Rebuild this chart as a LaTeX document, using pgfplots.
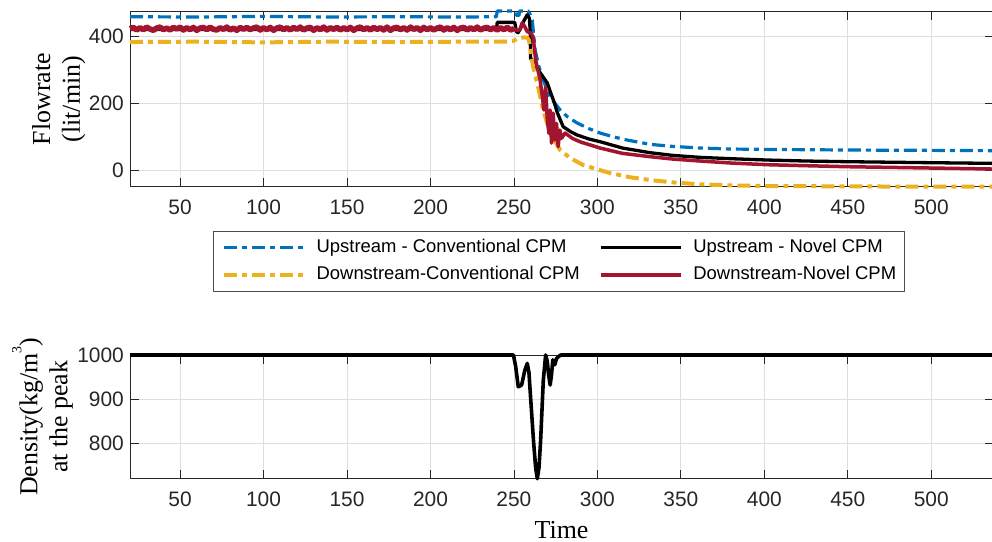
\documentclass[border=0pt]{standalone}
\usepackage{fontspec}
\setmainfont{Liberation Sans}
\newfontfamily\seriffont{Liberation Serif}
\usepackage{pgfplots}
\pgfplotsset{compat=1.18}

\definecolor{mblue}{rgb}{0,0.447,0.741}
\definecolor{myellow}{rgb}{0.929,0.694,0.125}
\definecolor{mred}{rgb}{0.635,0.078,0.184}
\definecolor{axgray}{gray}{0.15}
\definecolor{gridgray}{gray}{0.87}

\pgfplotsset{
  panel/.style={
    scale only axis, width=863bp, xmin=20, xmax=537,
    clip=false,
    axis line style={axgray, line width=0.8bp},
    tick style={axgray, line width=0.8bp},
    major tick length=8.5bp,
    tick align=inside,
    tick pos=both,
    grid=major,
    major grid style={gridgray, line width=0.8bp},
    xtick={50,100,...,500},
    scaled ticks=false,
    /pgf/number format/1000 sep={},
    /pgf/number format/assume math mode=true,
    ticklabel style={font=\fontsize{21}{24}\selectfont, text=axgray, inner sep=0pt},
    xticklabel shift=12.5bp,
    yticklabel shift=6bp,
    label style={font=\seriffont\fontsize{26}{30}\selectfont, inner sep=0pt, align=center},
    line join=round,
  },
  blueline/.style={mblue, line width=3.2bp, dash pattern=on 13bp off 5bp on 5bp off 5bp},
  yellowline/.style={myellow, line width=4bp, dash pattern=on 13bp off 5bp on 5bp off 5bp},
  blackline/.style={black, line width=3.3bp},
  redline/.style={mred, line width=3.5bp},
}

\begin{document}
\begin{tikzpicture}

% ---------- flow rates ----------
\begin{axis}[panel,
  at={(130bp,-11.7bp)}, anchor=north west,
  height=175bp,
  ymin=-50, ymax=475,
  ytick={0,200,400},
  ylabel={Flowrate\\(lit/min)},
  ylabel style={at={(axis description cs:-0.0514,0.5)}, anchor=south},
  legend columns=2,
  legend cell align=left,
  legend image code/.code={\draw[#1] (0bp,0bp) -- (80bp,0bp);},
  legend style={at={(0.497,-0.2514)}, anchor=north,
    draw=black!70, line width=0.8bp, fill=white,
    inner xsep=8bp, inner ysep=8bp,
    font=\fontsize{18.5}{21}\selectfont,
    nodes={inner sep=0pt, text height=13.5bp, text depth=4bp},
    /tikz/every odd column/.append style={column sep=11bp},
    /tikz/every even column/.append style={column sep=19bp},
    row sep=9.5bp},
]

% Upstream, conventional CPM
\addplot[blueline] coordinates {
 (20,460) (60,459) (100,461) (140,459) (180,460) (220,459) (239.5,460)
 (240,477) (251,477) (251.5,464) (253,464) (253.5,477) (258.5,477)
 (259.5,470) (261,450) (262.7,360) (265,310) (267.5,270) (271.7,219)
 (277.7,180) (282,160) (287.9,141) (295,124) (301.6,111) (310,99)
 (317.8,90) (331.6,77) (345,71) (361.6,66) (380,63) (400,62)
 (450,60) (500,59) (537,58)
};
\addlegendentry{Upstream - Conventional CPM}

% Upstream, novel CPM
\addplot[blackline] coordinates {
 (20,422) (100,422) (180,422) (239.5,422) (240,443) (250.5,443)
 (251.5,415) (252.5,412) (254,425) (256,448) (258,466) (259.3,455)
 (259.7,420) (260,335) (263,312) (266,290) (270,261) (272.5,225)
 (274,205) (276,172) (279.5,130) (284,115) (287.9,105) (295,93)
 (301.6,85) (315,66) (331.6,52) (345,44) (361.6,38) (380,34)
 (401.7,30) (425,27) (449.6,25) (500,22) (537,20)
};
\addlegendentry{Upstream - Novel CPM}

% Downstream, conventional CPM
\addplot[yellowline] coordinates {
 (20,384) (60,385) (100,383) (140,385) (180,384) (220,385) (245,385)
 (250,388) (252,394) (254,396) (256,398) (258,397) (259,390)
 (261.5,310) (264.5,249) (267.5,180) (271.7,111) (277.7,60)
 (283.7,36) (291.5,15) (300,2) (307.6,-9) (320,-22) (331.6,-30)
 (345,-37) (361.6,-43) (380,-46) (400,-48) (450,-49) (500,-50) (537,-50)
};
\addlegendentry{Downstream-Conventional CPM}

% Downstream, novel CPM
\addplot[redline] coordinates {
 (20,424) (250,424)
 (252,419) (253.5,421) (255,442) (256.5,430) (258,415) (260,412)
 (261.5,400) (263,330) (265.7,270) (267,220) (268,180) (269,249)
 (270,150) (271,110) (271.7,180) (272.5,81) (273.5,171) (274.5,90)
 (275.5,140) (276.5,70) (277.5,120) (278.5,95) (280.7,111) (285,95)
 (290,84) (301.6,66) (315,50) (331.6,40) (345,33) (361.6,27) (380,21)
 (401.7,16) (425,13) (449.6,10) (500,6) (537,3)
};
\addlegendentry{Downstream-Novel CPM}

% noisy steady part of the downstream novel signal
\addplot[mred, line width=5.5bp, forget plot] coordinates {
 (20,424) (22,428) (24,420) (26,427) (28,421) (30,429) (32,423) (34,419)
 (36,426) (38,429) (40,421) (42,426) (44,420) (46,428) (48,423) (50,429)
 (52,420) (54,427) (56,421) (58,428) (60,419) (62,426) (64,428) (66,421)
 (68,429) (70,422) (72,420) (74,427) (76,422) (78,429) (80,420) (82,426)
 (84,419) (86,428) (88,422) (90,428) (92,421) (94,426) (96,429) (98,420)
 (100,427) (102,421) (104,428) (106,419) (108,426) (110,429) (112,421)
 (114,427) (116,420) (118,428) (120,422) (122,429) (124,420) (126,426)
 (128,428) (130,419) (132,427) (134,421) (136,429) (138,420) (140,427)
 (142,422) (144,428) (146,420) (148,427) (150,421) (152,428) (154,419)
 (156,426) (158,429) (160,421) (162,427) (164,420) (166,428) (168,422)
 (170,427) (172,420) (174,429) (176,419) (178,426) (180,428) (182,421)
 (184,427) (186,420) (188,429) (190,422) (192,427) (194,419) (196,428)
 (198,421) (200,427) (202,420) (204,426) (206,429) (208,420) (210,427)
 (212,421) (214,428) (216,419) (218,426) (220,428) (222,420) (224,427)
 (226,421) (228,429) (230,420) (232,426) (234,428) (236,421) (238,427)
 (240,420) (242,427) (244,421) (246,428) (248,420) (250,424)
};
\end{axis}

% ---------- density at the peak ----------
\begin{axis}[panel,
  at={(130bp,-355bp)}, anchor=north west,
  height=123.7bp,
  ymin=720, ymax=1000,
  ytick={800,900,1000},
  xlabel={Time},
  xlabel style={at={(axis description cs:0.5,-0.4818)}, anchor=base},
  ylabel={Density(kg/m\raisebox{16bp}{\fontsize{14}{14}\selectfont 3})\\at the peak},
  ylabel style={at={(axis description cs:-0.0660,0.5)}, anchor=south},
]
\addplot[black, line width=3.6bp] coordinates {
 (20,1000) (100,1000) (200,1000) (249.7,1000) (251,975) (252.6,928)
 (254.6,932) (256.5,965) (258,981) (259,960) (259.7,920) (261.7,807)
 (263,745) (264,720) (265,745) (266,807) (267.6,943) (269,1000)
 (270,985) (270.7,958) (271.7,932) (272.5,955) (273.3,989) (274.5,978)
 (275.5,992) (276.6,996) (278,1000) (400,1000) (537,1000)
};
\end{axis}

\pgfresetboundingbox
\useasboundingbox (0,0) rectangle (992bp,-542bp);
\end{tikzpicture}
\end{document}
